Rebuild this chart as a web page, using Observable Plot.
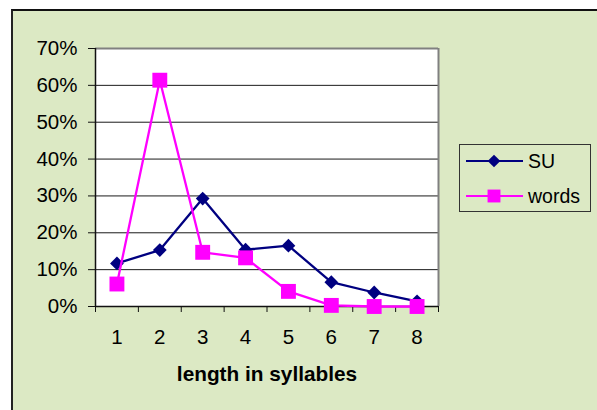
<!DOCTYPE html>
<html>
<head>
<meta charset="utf-8">
<script src="https://cdn.jsdelivr.net/npm/d3@7"></script>
<script src="https://cdn.jsdelivr.net/npm/@observablehq/plot@0.6"></script>
<style>
  html, body { margin: 0; padding: 0; background: #ffffff; overflow: hidden; }
  #wrap { position: relative; width: 597px; height: 410px; }
  #panel { position: absolute; left: 11px; top: 9px; width: 700px; height: 500px;
           background: #dce9c4; border-top: 2px solid #111; border-left: 2px solid #222; }
  #chart { position: absolute; left: 0; top: 0; }
  #legend { position: absolute; left: 459px; top: 144px; width: 130px; height: 66px;
            border: 1px solid #333; font-family: "Liberation Sans", Arial, sans-serif; font-size: 19.5px; color: #000; }
  .item { position: absolute; left: 6px; height: 20px; display: flex; align-items: center; }
  .item span { margin-left: 4px; line-height: 20px; }
</style>
</head>
<body>
<div id="wrap">
  <div id="panel"></div>
  <div id="chart"></div>
  <div id="legend"></div>
</div>
<script>
// ---- data ----
const syllables = [1, 2, 3, 4, 5, 6, 7, 8];
const suValues = [0.117, 0.153, 0.293, 0.154, 0.165, 0.066, 0.038, 0.014];
const wordValues = [0.061, 0.614, 0.147, 0.132, 0.041, 0.003, 0.000, 0.000];
const seriesNames = ["SU", "words"];
const yTicks = [0, 0.1, 0.2, 0.3, 0.4, 0.5, 0.6, 0.7];
const xTitle = "length in syllables";

const colors = { SU: "#000080", words: "#ff00ff" };
const symbols = { SU: "diamond2", words: "square" };
const radius = { SU: 6.2, words: 8.4 };

const su = syllables.map((s, i) => ({ s, v: suValues[i] }));
const words = syllables.map((s, i) => ({ s, v: wordValues[i] }));
const boundaries = d3.range(0.5, syllables.length + 1, 1);
const font = "Liberation Sans, Arial, sans-serif";

const chart = Plot.plot({
  width: 597,
  height: 410,
  marginLeft: 95,
  marginTop: 48,
  marginRight: 159,
  marginBottom: 104,
  style: { background: "transparent", fontFamily: font, fontSize: "20px", color: "#000" },
  x: { type: "linear", domain: [0.5, 8.5] },
  y: { domain: [0, 0.7] },
  marks: [
    Plot.frame({ fill: "white", stroke: "none" }),
    Plot.ruleY(yTicks.slice(1, -1), { stroke: "#1a1a1a", strokeWidth: 1 }),
    Plot.ruleY([0.7], { stroke: "#808080", strokeWidth: 2 }),
    Plot.ruleX([8.5], { stroke: "#808080", strokeWidth: 2 }),
    Plot.ruleY([0], { stroke: "#111", strokeWidth: 1.5 }),
    Plot.ruleX([0.5], { stroke: "#111", strokeWidth: 1.5 }),
    Plot.axisY({ ticks: yTicks, tickFormat: d3.format(".0%"), tickSize: 7, tickPadding: 11,
                 label: null, fontSize: 20.5, stroke: "#111" }),
    Plot.axisX({ ticks: boundaries, tickSize: 6, tickFormat: () => "", label: null, stroke: "#111" }),
    Plot.axisX({ ticks: syllables, tickSize: 0, tickPadding: 23, tickFormat: d3.format("d"),
                 label: null, fontSize: 20.5 }),
    Plot.text([xTitle], { frameAnchor: "bottom", lineAnchor: "middle", dy: 68,
                          fontWeight: "bold", fontSize: 20.8, fill: "#000" }),
    Plot.line(su, { x: "s", y: "v", stroke: colors.SU, strokeWidth: 2.3 }),
    Plot.dot(su, { x: "s", y: "v", symbol: symbols.SU, r: radius.SU, fill: colors.SU, stroke: "none" }),
    Plot.line(words, { x: "s", y: "v", stroke: colors.words, strokeWidth: 2.3 }),
    Plot.dot(words, { x: "s", y: "v", symbol: symbols.words, r: radius.words, fill: colors.words, stroke: "none" })
  ]
});
document.getElementById("chart").appendChild(chart);

// ---- legend ----
const legend = d3.select("#legend");
seriesNames.forEach((name, i) => {
  const item = legend.append("div").attr("class", "item").style("top", (6 + i * 35) + "px");
  const svg = item.append("svg").attr("width", 58).attr("height", 20);
  svg.append("line").attr("x1", 0).attr("x2", 57).attr("y1", 10).attr("y2", 10)
    .attr("stroke", colors[name]).attr("stroke-width", 2);
  const sym = name === "SU" ? d3.symbolDiamond2 : d3.symbolSquare;
  const size = Math.PI * radius[name] * radius[name] * (name === "SU" ? 0.85 : 0.75);
  svg.append("path").attr("d", d3.symbol(sym, size)()).attr("transform", "translate(28,10)")
    .attr("fill", colors[name]);
  item.append("span").text(name);
});
</script>
</body>
</html>
